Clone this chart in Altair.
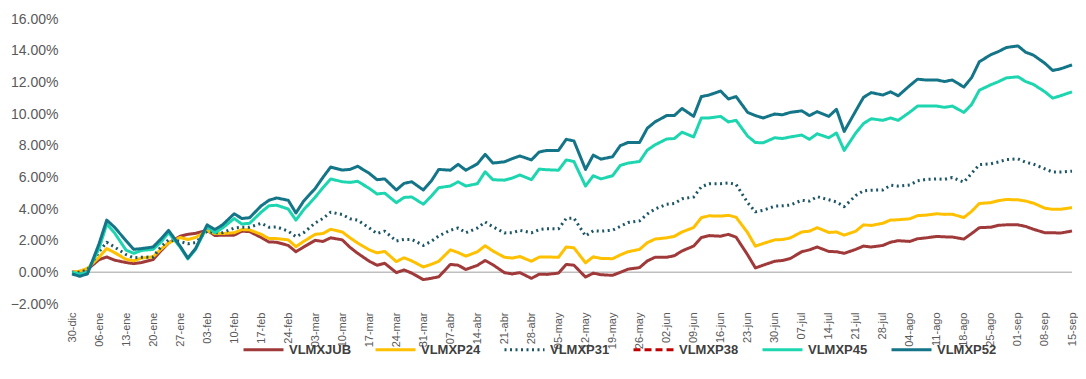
import json
import pandas as pd
import altair as alt

TICK_LABELS = ["30-dic", "06-ene", "13-ene", "20-ene", "27-ene", "03-feb", "10-feb", "17-feb",
               "24-feb", "03-mar", "10-mar", "17-mar", "24-mar", "31-mar", "07-abr", "14-abr",
               "21-abr", "28-abr", "05-may", "12-may", "19-may", "26-may", "02-jun", "09-jun",
               "16-jun", "23-jun", "30-jun", "07-jul", "14-jul", "21-jul", "28-jul", "04-ago",
               "11-ago", "18-ago", "25-ago", "01-sep", "08-sep", "15-sep"]

Y_TICKS = [-0.02, 0.0, 0.02, 0.04, 0.06, 0.08, 0.10, 0.12, 0.14, 0.16]

# days since 30-dic (Mon/Wed/Fri samples)
DAYS = [7 * w + k for w in range(37) for k in (0, 2, 4)] + [259]

SERIES = ["VLMXJUB", "VLMXP24", "VLMXP31", "VLMXP38", "VLMXP45", "VLMXP52"]
COLORS = ["#A03A3A", "#FFC000", "#1B5566", "#C00000", "#1DD6B0", "#137587"]
DASHES = [[1, 0], [1, 0], [2, 3.5], [7, 4], [1, 0], [1, 0]]

VLMXJUB = [0.0, 0.05, 0.18, 0.8, 0.97, 0.77, 0.62, 0.55, 0.62, 0.8, 1.35, 1.85,
           2.28, 2.4, 2.46, 2.65, 2.33, 2.34, 2.35, 2.6, 2.57, 2.2, 1.92, 1.9,
           1.7, 1.3, 1.6, 2.02, 1.95, 2.18, 2.05, 1.58, 1.2, 0.7, 0.45, 0.57,
           -0.02, 0.15, -0.05, -0.46, -0.38, -0.28, 0.5, 0.45, 0.18, 0.44, 0.75, 0.48,
           -0.02, -0.1, -0.02, -0.38, -0.12, -0.13, -0.05, 0.5, 0.45, -0.3, -0.05, -0.15,
           -0.19, 0.0, 0.2, 0.3, 0.72, 0.95, 0.95, 1.05, 1.35, 1.66, 2.2, 2.32,
           2.28, 2.4, 2.22, 1.1, 0.28, 0.45, 0.7, 0.75, 0.87, 1.3, 1.42, 1.6,
           1.32, 1.3, 1.2, 1.45, 1.66, 1.6, 1.7, 1.9, 2.0, 1.95, 2.12, 2.17,
           2.27, 2.24, 2.23, 2.1, 2.45, 2.82, 2.85, 2.97, 3.0, 3.0, 2.9, 2.72,
           2.5, 2.5, 2.48, 2.61]

VLMXP24 = [0.0, 0.08, 0.25, 0.95, 1.5, 1.25, 0.82, 0.73, 0.9, 0.98, 1.45, 1.85,
           2.2, 2.07, 2.2, 2.62, 2.45, 2.45, 2.5, 2.7, 2.68, 2.4, 2.13, 2.13,
           2.05, 1.62, 1.95, 2.4, 2.45, 2.72, 2.55, 2.18, 1.85, 1.42, 1.23, 1.32,
           0.68, 0.92, 0.72, 0.34, 0.5, 0.7, 1.42, 1.25, 1.02, 1.3, 1.68, 1.35,
           0.95, 0.9, 1.0, 0.7, 0.96, 0.97, 0.95, 1.6, 1.55, 0.6, 0.98, 0.88,
           0.86, 1.1, 1.3, 1.45, 1.87, 2.1, 2.18, 2.27, 2.55, 2.83, 3.45, 3.57,
           3.55, 3.6, 3.48, 2.5, 1.65, 1.82, 2.05, 2.07, 2.17, 2.55, 2.6, 2.82,
           2.52, 2.55, 2.35, 2.6, 3.0, 2.96, 3.1, 3.3, 3.32, 3.38, 3.58, 3.61,
           3.7, 3.66, 3.67, 3.46, 3.85, 4.35, 4.4, 4.53, 4.6, 4.58, 4.5, 4.37,
           4.05, 3.98, 3.98, 4.09]

VLMXP31 = [0.0, 0.0, 0.15, 1.3, 1.9, 1.6, 1.12, 0.92, 0.95, 0.97, 1.6, 2.05,
           1.95, 1.8, 1.88, 2.6, 2.5, 2.5, 2.8, 2.85, 2.85, 3.1, 2.85, 2.87,
           2.6, 2.25, 2.5, 3.12, 3.4, 3.8, 3.65, 3.38, 3.3, 2.8, 2.45, 2.6,
           1.98, 2.08, 2.08, 1.7, 1.95, 2.3, 2.66, 2.8, 2.5, 2.8, 3.18, 2.88,
           2.49, 2.5, 2.65, 2.5, 2.7, 2.76, 2.75, 3.4, 3.42, 2.3, 2.62, 2.6,
           2.66, 2.9, 3.15, 3.25, 3.68, 4.0, 4.3, 4.35, 4.65, 4.76, 5.4, 5.6,
           5.6, 5.65, 5.55, 4.4, 3.82, 3.92, 4.18, 4.2, 4.25, 4.55, 4.5, 4.78,
           4.58, 4.45, 4.15, 4.85, 5.15, 5.19, 5.2, 5.5, 5.45, 5.52, 5.78, 5.86,
           5.9, 5.87, 5.99, 5.7, 6.25, 6.8, 6.86, 6.97, 7.12, 7.17, 6.95, 6.84,
           6.53, 6.33, 6.33, 6.39]

VLMXP45 = [0.0, -0.12, 0.0, 1.5, 3.05, 2.5, 1.4, 1.2, 1.38, 1.45, 1.9, 2.5,
           1.6, 0.85, 1.45, 2.9, 2.5, 2.8, 3.4, 3.05, 3.1, 3.8, 4.2, 4.24,
           4.0, 3.3, 3.95, 4.75, 5.35, 5.9, 5.72, 5.68, 5.75, 5.3, 4.95, 5.0,
           4.4, 4.73, 4.76, 4.3, 4.8, 5.35, 5.45, 5.72, 5.45, 5.6, 6.35, 5.85,
           5.82, 5.95, 6.15, 5.85, 6.52, 6.48, 6.45, 7.1, 7.0, 5.45, 6.1, 5.9,
           6.1, 6.75, 6.9, 7.0, 7.72, 8.05, 8.42, 8.45, 8.85, 8.55, 9.75, 9.75,
           9.85, 9.5, 9.6, 8.6, 8.2, 8.18, 8.5, 8.45, 8.55, 8.67, 8.4, 8.75,
           8.5, 8.8, 7.7, 8.8, 9.4, 9.7, 9.6, 9.75, 9.6, 10.12, 10.5, 10.5,
           10.5, 10.42, 10.5, 10.1, 10.6, 11.5, 11.85, 12.05, 12.28, 12.35, 12.05, 11.87,
           11.4, 11.0, 11.15, 11.4]

VLMXP52 = [-0.1, -0.25, -0.1, 1.8, 3.3, 2.85, 2.0, 1.45, 1.5, 1.6, 2.1, 2.65,
           1.65, 0.9, 1.5, 3.0, 2.7, 3.0, 3.7, 3.4, 3.45, 4.2, 4.55, 4.7,
           4.55, 3.75, 4.5, 5.3, 6.0, 6.65, 6.46, 6.5, 6.7, 6.25, 5.85, 5.9,
           5.2, 5.62, 5.72, 5.2, 5.75, 6.5, 6.45, 6.82, 6.45, 6.85, 7.45, 6.9,
           6.98, 7.18, 7.35, 7.1, 7.6, 7.7, 7.7, 8.4, 8.3, 6.5, 7.4, 7.15,
           7.3, 8.0, 8.2, 8.2, 9.1, 9.5, 9.9, 9.9, 10.35, 9.85, 11.1, 11.2,
           11.45, 10.95, 11.1, 10.1, 9.9, 9.75, 10.0, 9.95, 10.1, 10.2, 9.9, 10.15,
           9.85, 10.3, 8.9, 10.2, 11.05, 11.35, 11.2, 11.4, 11.15, 11.8, 12.2, 12.15,
           12.15, 12.05, 12.15, 11.7, 12.3, 13.3, 13.75, 13.95, 14.2, 14.3, 13.9, 13.72,
           13.2, 12.75, 12.85, 13.1]

VALUES = {"VLMXJUB": VLMXJUB, "VLMXP24": VLMXP24, "VLMXP31": VLMXP31,
          "VLMXP45": VLMXP45, "VLMXP52": VLMXP52}

rows = []
for name in ["VLMXJUB", "VLMXP24", "VLMXP31", "VLMXP45", "VLMXP52"]:
    for d, v in zip(DAYS, VALUES[name]):
        rows.append({"day": d, "value": v / 100.0, "series": name})
df = pd.DataFrame(rows)

FONT = "Liberation Sans"
label_expr = json.dumps(TICK_LABELS) + "[round(datum.value / 7)]"

legend = alt.Legend(
    orient="none", legendX=170, legendY=309, direction="horizontal", columns=6,
    title=None, symbolType="stroke", symbolSize=1600, symbolStrokeWidth=3,
    labelFont=FONT, labelFontSize=13, labelFontWeight="bold", labelColor="#404040",
    columnPadding=17, labelOffset=4,
)

y_scale = alt.Scale(domain=[-0.02, 0.16], nice=False)
y_axis = alt.Axis(values=Y_TICKS, format=".2%", labelOverlap=False, labelFlush=False,
                  labelFontSize=14, labelColor="#595959", labelFont=FONT,
                  domain=False, ticks=False, grid=False, labelPadding=14, title=None)

lines = alt.Chart(df).mark_line(strokeWidth=3, strokeJoin="round").encode(
    x=alt.X("day:Q", scale=alt.Scale(domain=[0, 259], nice=False, zero=False),
            axis=alt.Axis(values=list(range(0, 260, 7)), labelExpr=label_expr,
                          labelAngle=-90, labelFontSize=11, labelColor="#595959",
                          labelFont=FONT, domain=False, ticks=False, grid=False,
                          labelPadding=8, title=None, labelOverlap=False, labelFlush=False)),
    y=alt.Y("value:Q", scale=y_scale, axis=y_axis),
    color=alt.Color("series:N", scale=alt.Scale(domain=SERIES, range=COLORS), legend=legend),
    strokeDash=alt.StrokeDash("series:N", scale=alt.Scale(domain=SERIES, range=DASHES), legend=legend),
    order=alt.Order("day:Q"),
)

zero = alt.Chart(pd.DataFrame({"value": [0.0]})).mark_rule(color="#BFBFBF", strokeWidth=1.5).encode(
    y=alt.Y("value:Q", scale=y_scale, axis=y_axis)
)

chart = alt.layer(zero, lines).properties(
    width=1000, height=285,
    padding={"left": 64, "top": 11, "right": 6, "bottom": 60},
    autosize=alt.AutoSizeParams(type="none"),
    background="white",
).configure_view(stroke=None).configure_axis(labelOverlap=False)

chart.save("out.html", embed_options={"renderer": "svg", "actions": False})
